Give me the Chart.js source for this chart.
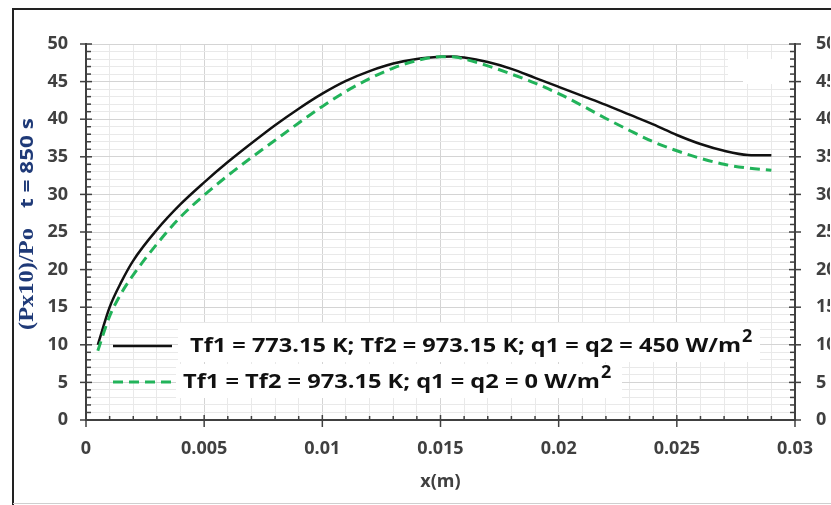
<!DOCTYPE html>
<html>
<head>
<meta charset="utf-8">
<script src="https://cdn.jsdelivr.net/npm/chart.js@4.4.1/dist/chart.umd.min.js"></script>
<style>
    html, body { margin: 0; padding: 0; background: #fff; }
    #wrap { width: 831px; height: 505px; }
</style>
</head>
<body>
<div id="wrap"><canvas id="pressureChart" width="831" height="505"></canvas></div>
<script>
// Position along the channel, x (m)
const xPositions = [0.0005, 0.001, 0.0015, 0.002, 0.003, 0.004, 0.005, 0.006, 0.007, 0.008,
    0.009, 0.010, 0.011, 0.012, 0.013, 0.014, 0.015, 0.0155, 0.016, 0.017, 0.018, 0.019,
    0.020, 0.021, 0.022, 0.023, 0.024, 0.025, 0.026, 0.027, 0.028, 0.029];

// (Px10)/Po at t = 850 s, heated walls (q1 = q2 = 450 W/m2)
const heatedWalls = [10.0, 15.0, 18.4, 21.2, 25.3, 28.7, 31.6, 34.3, 36.8, 39.2,
    41.4, 43.4, 45.1, 46.4, 47.4, 48.0, 48.3, 48.35, 48.2, 47.6, 46.7, 45.5,
    44.3, 43.1, 41.9, 40.6, 39.3, 37.9, 36.7, 35.8, 35.25, 35.2];

// (Px10)/Po at t = 850 s, adiabatic walls (q1 = q2 = 0)
const adiabaticWalls = [9.2, 13.8, 16.9, 19.3, 23.4, 27.0, 29.9, 32.5, 34.9, 37.2,
    39.5, 41.7, 43.7, 45.4, 46.8, 47.8, 48.3, 48.3, 48.0, 47.1, 46.0, 44.8,
    43.4, 41.8, 40.1, 38.5, 37.0, 35.8, 34.8, 34.0, 33.5, 33.2];

const seriesLabels = [
    'Tf1 = 773.15 K; Tf2 = 973.15 K; q1 = q2 = 450 W/m²',
    'Tf1 = Tf2 = 973.15 K; q1 = q2 = 0 W/m²'
];

// labelled ticks; the other ticks are minor ones
const xTickLabels = ['0', '0.005', '0.01', '0.015', '0.02', '0.025', '0.03'];
const yTickLabels = ['0', '5', '10', '15', '20', '25', '30', '35', '40', '45', '50'];

const AXIS_COLOR = '#404040';
const TICK_FONT = { family: '"Open Sans"', size: 18, weight: 'bold' };

function xLabelFor(value) {
    const hit = xTickLabels.find(l => Math.abs(parseFloat(l) - value) < 1e-7);
    return hit === undefined ? '' : hit;
}

function yLabelFor(value) {
    const hit = yTickLabels.find(l => Math.abs(parseFloat(l) - value) < 1e-7);
    return hit === undefined ? '' : hit;
}

function gridColor(labelFn) {
    return ctx => (ctx.tick && labelFn(ctx.tick.value) !== '') ? '#d4d4d4' : '#e9e9e9';
}

// Outer frame of the figure
const frame = {
    id: 'frame',
    afterDraw(chart) {
        const ctx = chart.ctx;
        ctx.save();
        ctx.strokeStyle = '#222';
        ctx.lineWidth = 2;
        ctx.beginPath();
        ctx.moveTo(13, 505);
        ctx.lineTo(13, 9);
        ctx.lineTo(831, 9);
        ctx.stroke();
        ctx.strokeStyle = '#cfcfcf';
        ctx.lineWidth = 1;
        ctx.beginPath();
        ctx.moveTo(13, 503.5);
        ctx.lineTo(831, 503.5);
        ctx.stroke();
        // blank patch in the upper right corner of the plot
        ctx.fillStyle = '#fff';
        ctx.fillRect(728, 59, 64, 22);
        ctx.fillRect(743, 80, 49, 4);
        ctx.restore();
    }
};

// Major ticks cross the axis lines, minor ticks sit inside
const tickMarks = {
    id: 'tickMarks',
    afterDraw(chart) {
        const { ctx, chartArea: a, scales } = chart;
        ctx.save();
        ctx.strokeStyle = AXIS_COLOR;
        ctx.lineWidth = 1.5;
        const seg = (x1, y1, x2, y2) => {
            ctx.beginPath();
            ctx.moveTo(x1, y1);
            ctx.lineTo(x2, y2);
            ctx.stroke();
        };
        scales.x.ticks.forEach((t, i) => {
            const px = scales.x.getPixelForTick(i);
            if (xLabelFor(t.value) !== '') seg(px, a.bottom - 5, px, a.bottom + 7);
            else seg(px, a.bottom - 4, px, a.bottom);
        });
        scales.y.ticks.forEach((t, i) => {
            const py = scales.y.getPixelForTick(i);
            if (yLabelFor(t.value) !== '') seg(a.left - 6, py, a.left + 6, py);
            else seg(a.left - 1, py, a.left + 5, py);
        });
        scales.y2.ticks.forEach((t, i) => {
            const py = scales.y2.getPixelForTick(i);
            if (yLabelFor(t.value) !== '') seg(a.right - 6, py, a.right + 6, py);
            else seg(a.right - 5, py, a.right + 1, py);
        });
        ctx.restore();
    }
};

// Draws text so that it spans a given length along its direction
function fitText(ctx, text, x, y, span) {
    const w = ctx.measureText(text).width;
    ctx.save();
    ctx.translate(x, y);
    ctx.scale(span / w, 1);
    ctx.fillText(text, 0, 0);
    ctx.restore();
}

// Vertical axis title, serif part and sans part
const yTitle = {
    id: 'yTitle',
    afterDraw(chart) {
        const ctx = chart.ctx;
        ctx.save();
        ctx.translate(28, 0);
        ctx.rotate(-Math.PI / 2);
        ctx.fillStyle = '#1f3a78';
        ctx.textBaseline = 'middle';
        ctx.textAlign = 'left';
        ctx.font = 'bold 20px "Liberation Serif"';
        fitText(ctx, '(Px10)/Po', -330, 0, 102);
        ctx.font = 'bold 18px "Open Sans"';
        fitText(ctx, 't = 850 s', -208, 0, 90);
        ctx.restore();
    }
};

// Legend inside the plot, text on white panels
const legendRows = [
    { y: 346, textX: 190, textEnd: 741, box: [178, 323, 582, 39] },
    { y: 382, textX: 183, textEnd: 600, box: [176, 364, 446, 34] }
];

const plotLegend = {
    id: 'plotLegend',
    afterDraw(chart) {
        const ctx = chart.ctx;
        ctx.save();
        legendRows.forEach((row, i) => {
            const ds = chart.data.datasets[i];
            ctx.fillStyle = '#fff';
            ctx.fillRect(row.box[0], row.box[1], row.box[2], row.box[3]);

            ctx.strokeStyle = ds.borderColor;
            ctx.lineWidth = ds.borderWidth;
            ctx.setLineDash(ds.borderDash || []);
            ctx.beginPath();
            ctx.moveTo(113, row.y);
            ctx.lineTo(172, row.y);
            ctx.stroke();
            ctx.setLineDash([]);

            const parts = ds.label.split('²');
            ctx.fillStyle = '#111';
            ctx.textBaseline = 'middle';
            ctx.textAlign = 'left';
            ctx.font = 'bold 20px "Open Sans"';
            fitText(ctx, parts[0], row.textX, row.y, row.textEnd - row.textX);
            ctx.font = 'bold 18px "Open Sans"';
            ctx.fillText('2', row.textEnd + 1, row.y - 9);
        });
        ctx.restore();
    }
};

const ctx = document.getElementById('pressureChart');

new Chart(ctx, {
    type: 'scatter',
    data: {
        datasets: [{
            label: seriesLabels[0],
            data: xPositions.map((x, i) => ({ x: x, y: heatedWalls[i] })),
            showLine: true,
            borderColor: '#111111',
            borderWidth: 2.5,
            pointRadius: 0,
            cubicInterpolationMode: 'monotone',
            order: 2
        }, {
            label: seriesLabels[1],
            data: xPositions.map((x, i) => ({ x: x, y: adiabaticWalls[i] })),
            showLine: true,
            borderColor: '#22b35a',
            borderWidth: 3,
            borderDash: [10, 6],
            pointRadius: 0,
            cubicInterpolationMode: 'monotone',
            order: 1
        }]
    },
    options: {
        responsive: false,
        animation: false,
        devicePixelRatio: 1,
        layout: { padding: { top: 44, left: 0, right: 0, bottom: 0 } },
        plugins: {
            legend: { display: false },
            tooltip: { enabled: false }
        },
        scales: {
            x: {
                type: 'linear',
                position: 'bottom',
                min: 0,
                max: 0.03,
                afterFit: scale => { scale.height = 85; },
                ticks: {
                    stepSize: 0.001,
                    autoSkip: false,
                    maxRotation: 0,
                    padding: 18,
                    color: AXIS_COLOR,
                    font: TICK_FONT,
                    callback: value => xLabelFor(value)
                },
                grid: { color: gridColor(xLabelFor), lineWidth: 1, drawTicks: false },
                border: { display: true, color: AXIS_COLOR, width: 2 },
                title: {
                    display: true,
                    text: 'x(m)',
                    color: AXIS_COLOR,
                    font: { family: '"Open Sans"', size: 18, weight: 'bold' },
                    padding: { top: 0, bottom: 12 }
                }
            },
            y: {
                type: 'linear',
                position: 'left',
                min: 0,
                max: 50,
                afterFit: scale => { scale.width = 86; },
                ticks: {
                    stepSize: 1,
                    autoSkip: false,
                    padding: 18,
                    color: AXIS_COLOR,
                    font: TICK_FONT,
                    callback: value => yLabelFor(value)
                },
                grid: { color: gridColor(yLabelFor), lineWidth: 1, drawTicks: false },
                border: { display: true, color: AXIS_COLOR, width: 2 }
            },
            y2: {
                type: 'linear',
                position: 'right',
                min: 0,
                max: 50,
                afterFit: scale => { scale.width = 35; },
                ticks: {
                    stepSize: 1,
                    autoSkip: false,
                    padding: 21,
                    color: AXIS_COLOR,
                    font: TICK_FONT,
                    callback: value => yLabelFor(value)
                },
                grid: { drawOnChartArea: false, drawTicks: false },
                border: { display: true, color: AXIS_COLOR, width: 2 }
            }
        }
    },
    plugins: [frame, tickMarks, yTitle, plotLegend]
});
</script>
</body>
</html>
